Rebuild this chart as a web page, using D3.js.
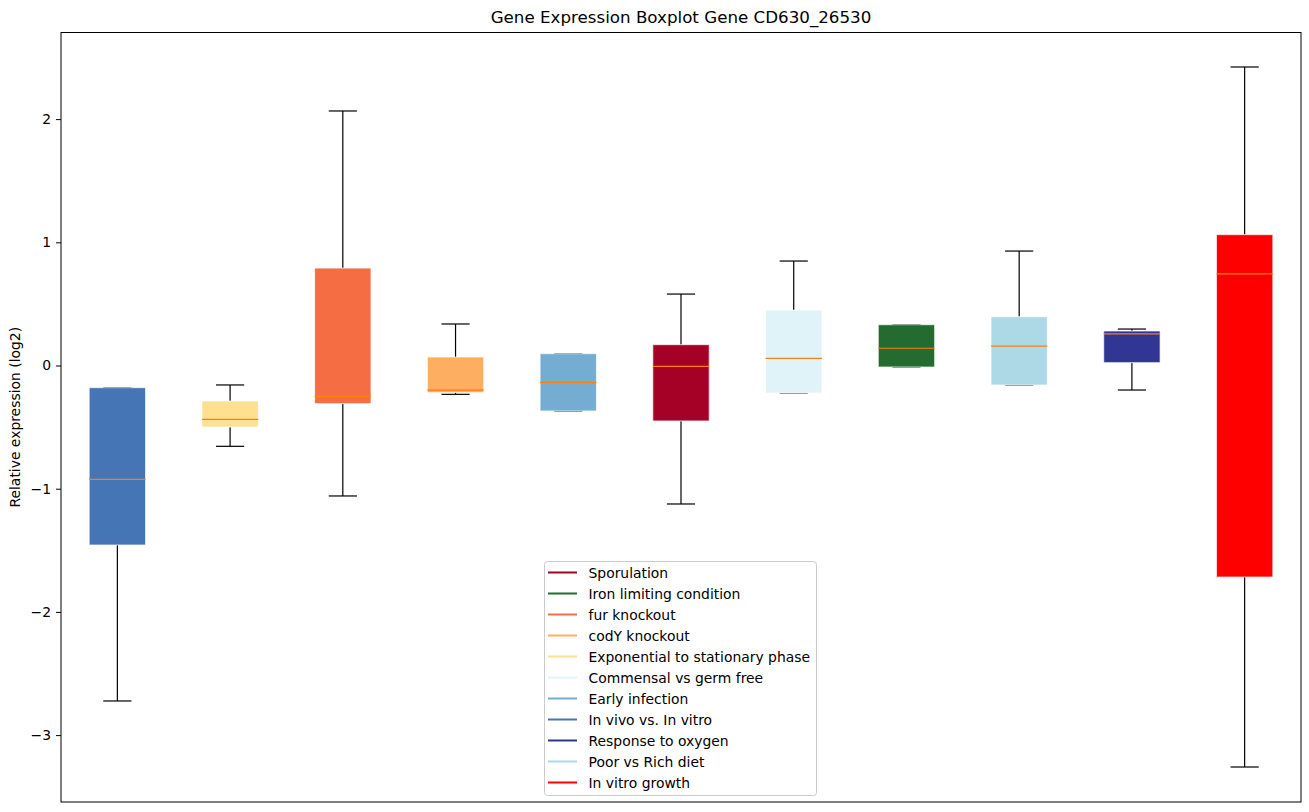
<!DOCTYPE html>
<html><head><meta charset="utf-8">
<script src="https://cdn.jsdelivr.net/npm/d3@7"></script>
<style>body{margin:0;background:#fff;font-family:"DejaVu Sans",sans-serif;}</style>
</head><body><svg id="c" width="1309" height="812"></svg>
<script>
const categories = ["In vivo vs. In vitro","Exponential to stationary phase","fur knockout","codY knockout","Early infection","Sporulation","Commensal vs germ free","Iron limiting condition","Poor vs Rich diet","Response to oxygen","In vitro growth"];
const colors = ["#4575b4","#fee090","#f46d43","#fdae61","#74add1","#a50026","#e0f3f8","#236b2e","#add8e6","#313695","#ff0000"];
const whiskerLow = [-2.723,-0.656,-1.059,-0.234,-0.369,-1.124,-0.223,-0.012,-0.158,-0.199,-3.259];
const q1 =         [-1.457,-0.499,-0.31,-0.22,-0.369,-0.45,-0.223,-0.012,-0.158,0.023,-1.717];
const medians =    [-0.924,-0.437,-0.25,-0.20,-0.137,-0.007,0.058,0.14,0.158,0.256,0.743];
const q3 =         [-0.18,-0.288,0.791,0.069,0.096,0.169,0.45,0.331,0.396,0.28,1.062];
const whiskerHigh =[-0.18,-0.158,2.066,0.337,0.096,0.58,0.848,0.331,0.929,0.296,2.423];
const legendOrder = ["Sporulation","Iron limiting condition","fur knockout","codY knockout","Exponential to stationary phase","Commensal vs germ free","Early infection","In vivo vs. In vitro","Response to oxygen","Poor vs Rich diet","In vitro growth"];
const yTicks = [-3,-2,-1,0,1,2];

const svg = d3.select("#c");
const L=61, R=1301, T=32.5, B=802;
const x = d3.scaleLinear().domain([0.5, categories.length+0.5]).range([L,R]);
const y = d3.scaleLinear().domain([-3.543, 2.703]).range([B,T]);
const unit = x(2)-x(1);
const bw = unit*0.5, cw = unit*0.25;
const FS = 13.9;

const g = svg.append("g");
categories.forEach((c,i)=>{
  const cx = x(i+1);
  g.append("line").attr("x1",cx).attr("x2",cx).attr("y1",y(q3[i])).attr("y2",y(whiskerHigh[i])).attr("stroke","#000").attr("stroke-width",1.2);
  g.append("line").attr("x1",cx).attr("x2",cx).attr("y1",y(q1[i])).attr("y2",y(whiskerLow[i])).attr("stroke","#000").attr("stroke-width",1.2);
  [whiskerHigh[i], whiskerLow[i]].forEach(v=>{
    g.append("line").attr("x1",cx-cw/2).attr("x2",cx+cw/2).attr("y1",y(v)).attr("y2",y(v)).attr("stroke","#000").attr("stroke-width",1.2);
  });
  g.append("rect").attr("x",cx-bw/2).attr("width",bw).attr("y",y(q3[i])).attr("height",y(q1[i])-y(q3[i]))
    .attr("fill",colors[i]).attr("stroke","#fff").attr("stroke-opacity",0.7).attr("stroke-width",1);
  g.append("line").attr("x1",cx-bw/2).attr("x2",cx+bw/2).attr("y1",y(medians[i])).attr("y2",y(medians[i])).attr("stroke","#ff7f0e").attr("stroke-width",1.2);
});

svg.append("rect").attr("x",L).attr("y",T).attr("width",R-L).attr("height",B-T).attr("fill","none").attr("stroke","#000").attr("stroke-width",1);
const yAxis = d3.axisLeft(y).tickValues(yTicks).tickSize(5).tickPadding(5).tickFormat(d=>d<0?"\u2212"+Math.abs(d):String(d));
const ya = svg.append("g").attr("transform",`translate(${L},0)`).call(yAxis);
ya.select(".domain").remove();
ya.selectAll("text").attr("font-family","DejaVu Sans").attr("font-size",FS).attr("fill","#000");
ya.selectAll("line").attr("stroke","#000");

svg.append("text").attr("x",(L+R)/2).attr("y",23).attr("text-anchor","middle").attr("font-size",16.7).attr("font-family","DejaVu Sans").text("Gene Expression Boxplot Gene CD630_26530");
svg.append("text").attr("transform",`translate(20,${(T+B)/2}) rotate(-90)`).attr("text-anchor","middle").attr("font-size",FS).attr("font-family","DejaVu Sans").text("Relative expression (log2)");

const lg = svg.append("g").attr("transform","translate(544,561)");
lg.append("rect").attr("x",0.5).attr("y",0.5).attr("width",272).attr("height",234).attr("rx",3).attr("fill","#fff").attr("fill-opacity",0.8).attr("stroke","#ccc");
legendOrder.forEach((name,k)=>{
  const i = categories.indexOf(name);
  const yy = 11.5 + k*21;
  lg.append("line").attr("x1",4).attr("x2",33).attr("y1",yy).attr("y2",yy).attr("stroke",colors[i]).attr("stroke-width",2);
  lg.append("text").attr("x",44.5).attr("y",yy+5).attr("font-size",FS).attr("font-family","DejaVu Sans").text(name);
});
</script></body></html>
